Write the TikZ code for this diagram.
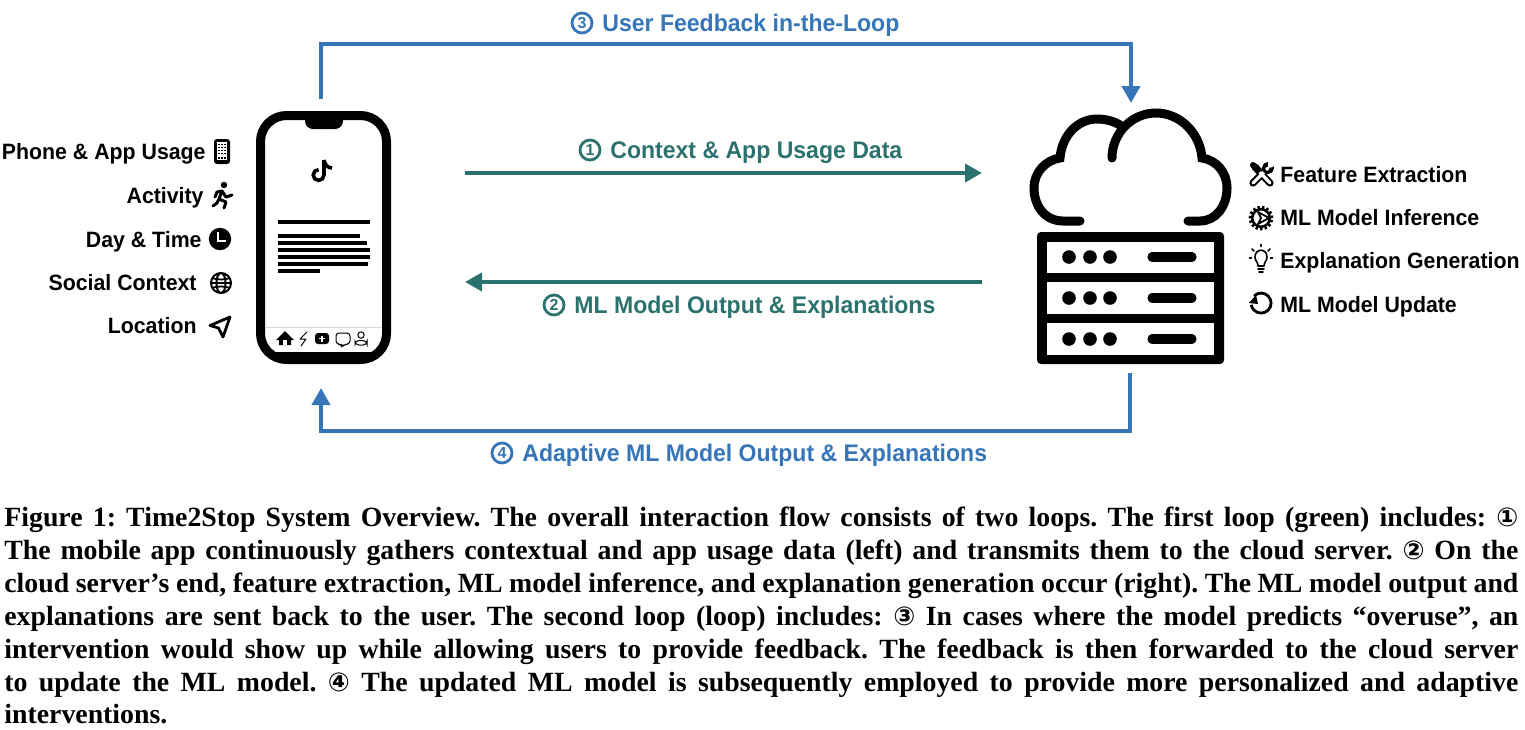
\documentclass[tikz,border=0pt]{standalone}
\usepackage{fontspec}
\usetikzlibrary{arrows.meta}
\setmainfont{Liberation Sans}
\newfontfamily\labelfont{Liberation Sans}[FakeStretch=.96]
\newfontfamily\capfont{Liberation Serif}[BoldFont={Liberation Serif Bold}]
\newfontfamily\symfont{DejaVu Sans}
\definecolor{loopblue}{HTML}{3575B8}
\definecolor{loopgreen}{HTML}{2B726E}
\def\circnum#1{{\symfont\fontsize{13pt}{14pt}\selectfont #1}}
\tikzset{
  flowtext/.style={font=\labelfont\bfseries\fontsize{12pt}{14pt}\selectfont, inner sep=0pt},
  sidetext/.style={font=\labelfont\bfseries\fontsize{11.1pt}{13pt}\selectfont, inner sep=0pt},
  stepnum/.style={circle, draw=#1, text=#1, line width=1.4pt, inner sep=0pt, minimum size=10pt,
    font=\bfseries\fontsize{8pt}{8pt}\selectfont},
  loopline/.style={line width=2pt, draw=#1, -{Triangle[width=9pt,length=8.5pt]}},
  capline/.style={anchor=base west, inner sep=0pt, font=\capfont\bfseries\fontsize{13.9pt}{15pt}\selectfont},
  phonebody/.style={draw, fill=white, line width=4.5pt, rounded corners=13pt, minimum width=63pt, minimum height=122pt},
  icon/.style={line width=.9pt, line cap=round, line join=round},
  rackrow/.style={fill=white, draw=none}
}
\frenchspacing
\begin{document}
\begin{tikzpicture}[x=.5pt, y=-.5pt]
  \useasboundingbox (0,0) rectangle (1525,729);

  % Connector ends
  \coordinate (feedbackStart) at (321,99);
  \coordinate (feedbackEnd) at (1131,103);
  \coordinate (contextStart) at (465,173);
  \coordinate (contextEnd) at (982,173);
  \coordinate (outputStart) at (982,282);
  \coordinate (outputEnd) at (465,282);
  \coordinate (adaptiveStart) at (1130,373);
  \coordinate (adaptiveEnd) at (321,388);

  % Loops
  \draw[loopline=loopblue] (feedbackStart) |- (feedbackEnd |- 0,44) -- (feedbackEnd);
  \draw[loopline=loopgreen] (contextStart) -- (contextEnd);
  \draw[loopline=loopgreen] (outputStart) -- (outputEnd);
  \draw[loopline=loopblue] (adaptiveStart) |- (adaptiveEnd |- 0,431) -- (adaptiveEnd);

  \node[stepnum=loopblue] (numThree) at (582,23) {3};
  \node[flowtext, text=loopblue, anchor=base west] (feedback) at (602,31) {User Feedback in-the-Loop};
  \node[stepnum=loopgreen] (numOne) at (590,150) {1};
  \node[flowtext, text=loopgreen, anchor=base west] (context) at (610,158) {Context \& App Usage Data};
  \node[stepnum=loopgreen] (numTwo) at (554,305) {2};
  \node[flowtext, text=loopgreen, anchor=base west] (output) at (574,313) {ML Model Output \& Explanations};
  \node[stepnum=loopblue] (numFour) at (502,453) {4};
  \node[flowtext, text=loopblue, anchor=base west] (adaptive) at (522,461) {Adaptive ML Model Output \& Explanations};

  % Phone
  \node[phonebody] (phone) at (323.5,237.5) {};
  \fill (264,352) -- (383,352) -- (375,359) -- (272,359) -- cycle;
  \fill[rounded corners=4pt] (305,112) -- (305,129) -- (343,129) -- (343,112) -- cycle;
  \draw[line width=.4pt, black!15] (265,327) -- (382,327);
  \draw[line width=1.8pt] (324,160) -- (324,175) arc[start angle=0, end angle=-270, radius=2.7pt]; % note
  \draw[line width=1.8pt] (324,160) .. controls (325,165) and (328,168) .. (332,168);
  \foreach \yval/\xend in {222/370, 236/360, 243/367, 250/370, 257/370, 264/368, 271/320} {
    \draw[line width=2pt] (278,\yval) -- (\xend,\yval);
  }
  % Tab bar
  \fill (276,340) -- (285,331) -- (294,340) -- (291,340) -- (291,345) -- (279,345) -- (279,340) -- cycle;
  \fill[white] (283,340) rectangle (287,345);
  \draw[icon, line width=.5pt] (307,332) -- (300,339) -- (306,339) -- (301,346);
  \fill[rounded corners=1.5pt] (315,333) rectangle (329,344);
  \draw[white, line width=.6pt] (319,338.5) -- (325,338.5) (322,335.5) -- (322,341.5);
  \draw[icon, line width=.5pt, rounded corners=1.5pt] (336,333) -- (350,333) -- (350,344) -- (345,344) -- (342,347) -- (341,344) -- (336,344) -- cycle;
  \draw[line width=.5pt] (361,335) circle[radius=1.6pt];
  \draw[line width=.5pt, rounded corners=2pt] (355,345) -- (355,340.5) -- (367,340.5) -- (367,345) -- cycle;

  % Context list
  \foreach \yval/\xval/\name in {159/206/{Phone \& App Usage}, 203/204/Activity, 247/202/{Day \& Time},
      290/197/Social Context, 333/197/Location} {
    \node[sidetext, anchor=base east] (ctx\yval) at (\xval,\yval) {\name};
  }
  \fill[rounded corners=1.5pt] (214,139) rectangle (230,164);
  \fill[white] (217,142) rectangle (227,160);
  \foreach \yval in {144.5,147.5,150.5,153.5,158} {
    \draw[line width=.8pt, dash pattern=on 1pt off .5pt] (218,\yval) -- (226,\yval);
  }
  \fill (224,185) circle[radius=1.6pt];
  \draw[icon, line width=1.5pt] (222,191) -- (219,199) (222,191) -- (217,192) -- (215,197) (222,191) -- (226,197) -- (232,195)
    (219,199) -- (226,202) -- (224,208) (219,199) -- (217,203) -- (213,206);
  \fill (220,239) circle[radius=5.6pt];
  \draw[white, line width=.8pt] (218,232) -- (218,241) -- (226,241);
  \draw[line width=1pt] (221,283) circle[radius=5pt] (221,283) ellipse[x radius=2.3pt, y radius=5pt];
  \draw[line width=.9pt] (212,278) .. controls (217,280) and (225,280) .. (230,278) (212,288) .. controls (217,286) and (225,286) .. (230,288) (211,283) -- (231,283);
  \draw[icon, line width=1.4pt] (230,317) -- (210,325.5) -- (218.5,328) -- (223,337) -- cycle;

  % Cloud
  \draw[line width=4.5pt, line cap=round] (1080,221) -- (1063,221) .. controls (1045,221) and (1034,206) .. (1034,188)
    .. controls (1034,172) and (1046,160) .. (1060,158) .. controls (1062,135) and (1078,119) .. (1097,119)
    .. controls (1107,119) and (1115,122) .. (1120,125);
  \draw[line width=4.5pt, line cap=round] (1112,158) .. controls (1112,133) and (1132,113) .. (1156,113)
    .. controls (1180,113) and (1200,133) .. (1202,158) .. controls (1216,160) and (1227,172) .. (1227,188)
    .. controls (1227,206) and (1216,221) .. (1200,221) -- (1188,221);

  % Server
  \fill[rounded corners=2pt] (1037,232) rectangle (1224,364);
  \foreach \ytop/\ybot/\ymid in {242/273/257, 282/314/298, 323/355/339} {
    \fill[rackrow] (1047,\ytop) rectangle (1214,\ybot);
    \foreach \xval in {1069,1090,1110} {
      \fill (\xval,\ymid) circle[radius=3.4pt];
    }
    \draw[line width=4.6pt, line cap=round] (1152,\ymid) -- (1192,\ymid);
  }

  % Server side list
  \foreach \yval/\name in {182/Feature Extraction, 225/ML Model Inference, 268.5/Explanation Generation, 312/ML Model Update} {
    \node[sidetext, anchor=base west] (srv\yval) at (1280,\yval) {\name};
  }
  % tools
  \draw[line width=3.6pt, line cap=round] (1255,167) -- (1270,183) (1268,168) -- (1253,183);
  \draw[white, line width=1.6pt, line cap=round] (1255,167) -- (1270,183) (1268,168) -- (1253,183);
  \draw[line width=3pt, line cap=round] (1253,165) -- (1258,170);
  \draw[line width=1.4pt] (1268,168) circle[radius=2.3pt];
  \fill[white] (1268,162) -- (1273,162) -- (1273,167) -- (1268,168) -- cycle;
  % gear
  \draw[line width=1.3pt] (1261,218) circle[radius=4.4pt];
  \draw[line width=1.4pt, dash pattern=on 1.2pt off 1.1pt] (1261,218) circle[radius=5.5pt];
  \draw[icon, line width=.9pt, fill=white] (1258,212) -- (1269,218) -- (1258,224) -- (1261,218) -- cycle;
  % bulb
  \draw[icon, line width=.8pt] (1255,257) .. controls (1255,248) and (1267,248) .. (1267,257) .. controls (1267,261) and (1264,262) .. (1264,266) -- (1258,266) .. controls (1258,262) and (1255,261) .. (1255,257) -- cycle;
  \draw[icon, line width=.8pt] (1258,269) -- (1264,269) (1259,272) -- (1263,272)
    (1261,244.5) -- (1261,246.5) (1252,249) -- (1254,251) (1270,249) -- (1268,251) (1249.5,258) -- (1251.5,258) (1270.5,258) -- (1272.5,258);
  % update
  \draw[line width=1.4pt] (1254,296) arc[start angle=135, end angle=-170, radius=5pt];
  \fill (1249,303) -- (1256,295) -- (1258,304) -- cycle;

  % Caption
  \foreach \yval/\captext in {
      526/{Figure 1: Time2Stop System Overview. The overall interaction flow consists of two loops. The first loop (green) includes: \circnum{①}},
      559/{The mobile app continuously gathers contextual and app usage data (left) and transmits them to the cloud server. \circnum{②} On the},
      592/{cloud server’s end, feature extraction, ML model inference, and explanation generation occur (right). The ML model output and},
      625/{explanations are sent back to the user. The second loop (loop) includes: \circnum{③} In cases where the model predicts “overuse”, an},
      658/{intervention would show up while allowing users to provide feedback. The feedback is then forwarded to the cloud server},
      691/{to update the ML model. \circnum{④} The updated ML model is subsequently employed to provide more personalized and adaptive}} {
    \node[capline] (cap\yval) at (4,\yval) {\makebox[757pt][s]{\captext}};
  }
  \node[capline] (capLast) at (4,723.5) {interventions.};
\end{tikzpicture}
\end{document}
